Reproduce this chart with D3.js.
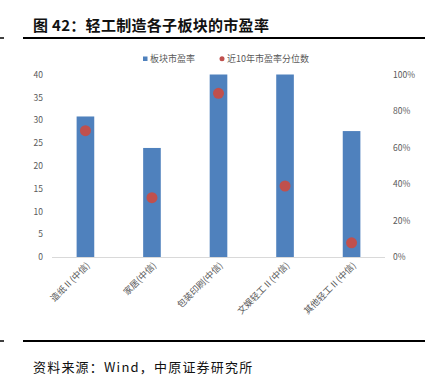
<!DOCTYPE html>
<html>
<head>
<meta charset="utf-8">
<script src="https://d3js.org/d3.v7.min.js"></script>
<style>
  body { margin: 0; background: #fff; }
  text { font-family: "Noto Sans CJK SC", "Noto Sans", sans-serif; }
</style>
</head>
<body>
<script>
    // chart data
    let categories = ["造纸Ⅱ(中信)", "家居(中信)", "包装印刷(中信)", "文娱轻工Ⅱ(中信)", "其他轻工Ⅱ(中信)"];
    let peValues = [30.8, 23.9, 40, 40, 27.6];
    let percentiles = [0.692, 0.325, 0.897, 0.389, 0.078];
    let leftTicks = [0, 5, 10, 15, 20, 25, 30, 35, 40];
    let rightTicks = [0, 0.2, 0.4, 0.6, 0.8, 1];

    let width = 433, height = 381;
    let svg = d3.select("body").append("svg")
        .attr("width", width)
        .attr("height", height);

    let plotLeft = 52, plotRight = 385, plotTop = 74.5, plotBottom = 257;

    let x = d3.scaleBand().domain(categories).range([plotLeft, plotRight]).paddingInner(0.735).paddingOuter(0.37);
    let y = d3.scaleLinear().domain([0, 40]).range([plotBottom, plotTop]);
    let y2 = d3.scaleLinear().domain([0, 1]).range([plotBottom, plotTop]);

    // title
    svg.append("text")
        .attr("x", 33).attr("y", 31)
        .attr("font-size", 15).attr("font-weight", "bold").attr("fill", "#111")
        .attr("letter-spacing", 0.3)
        .text("图 42：轻工制造各子板块的市盈率");
    svg.append("line").attr("x1", 23).attr("x2", 425).attr("y1", 38).attr("y2", 38)
        .attr("stroke", "#000").attr("stroke-width", 2);
    svg.append("line").attr("x1", 0).attr("x2", 4).attr("y1", 38).attr("y2", 38)
        .attr("stroke", "#000").attr("stroke-width", 1.5);

    // axes
    let gl = svg.append("g").attr("transform", `translate(${plotLeft},0)`)
        .call(d3.axisLeft(y).tickValues(leftTicks).tickSize(0).tickPadding(9));
    gl.select(".domain").remove();
    let gr = svg.append("g").attr("transform", `translate(${plotRight},0)`)
        .call(d3.axisRight(y2).tickValues(rightTicks).tickSize(0).tickPadding(8).tickFormat(d3.format(".0%")));
    gr.select(".domain").remove();
    svg.selectAll(".tick text").attr("font-size", 8.5).attr("fill", "#595959")
        .attr("font-family", "Liberation Sans, Arial, sans-serif");

    svg.append("line").attr("x1", plotLeft).attr("x2", plotRight).attr("y1", plotBottom + 0.5).attr("y2", plotBottom + 0.5)
        .attr("stroke", "#d9d9d9").attr("stroke-width", 1);

    // bars
    svg.append("g").selectAll("rect")
        .data(peValues)
        .join("rect")
            .attr("x", (d, i) => x(categories[i]))
            .attr("y", d => y(d))
            .attr("width", x.bandwidth())
            .attr("height", d => plotBottom - y(d))
            .attr("fill", "#4f81bd");

    // percentile dots
    svg.append("g").selectAll("circle")
        .data(percentiles)
        .join("circle")
            .attr("cx", (d, i) => x(categories[i]) + x.bandwidth() / 2)
            .attr("cy", d => y2(d))
            .attr("r", 5.5)
            .attr("fill", "#c0504d");

    // category labels
    svg.append("g").selectAll("text")
        .data(categories)
        .join("text")
            .attr("transform", d => `translate(${x(d) + x.bandwidth() / 2 + 5},${plotBottom + 9}) rotate(-45)`)
            .attr("text-anchor", "end")
            .attr("font-size", 9).attr("fill", "#595959")
            .text(d => d);

    // legend
    let lg = svg.append("g").attr("font-size", 9).attr("fill", "#595959");
    lg.append("rect").attr("x", 143).attr("y", 56.5).attr("width", 4.5).attr("height", 4.5).attr("fill", "#4f81bd");
    lg.append("text").attr("x", 150).attr("y", 62).text("板块市盈率");
    lg.append("circle").attr("cx", 222).attr("cy", 58.8).attr("r", 2.5).attr("fill", "#c0504d");
    lg.append("text").attr("x", 227).attr("y", 62).text("近10年市盈率分位数");

    // footer
    svg.append("line").attr("x1", 23).attr("x2", 425).attr("y1", 341).attr("y2", 341)
        .attr("stroke", "#000").attr("stroke-width", 2);
    svg.append("line").attr("x1", 0).attr("x2", 4).attr("y1", 341).attr("y2", 341)
        .attr("stroke", "#000").attr("stroke-width", 1.5);
    svg.append("text")
        .attr("x", 33).attr("y", 372)
        .attr("font-size", 13).attr("fill", "#111")
        .attr("letter-spacing", 1.2)
        .text("资料来源：Wind，中原证券研究所");
</script>
</body>
</html>
